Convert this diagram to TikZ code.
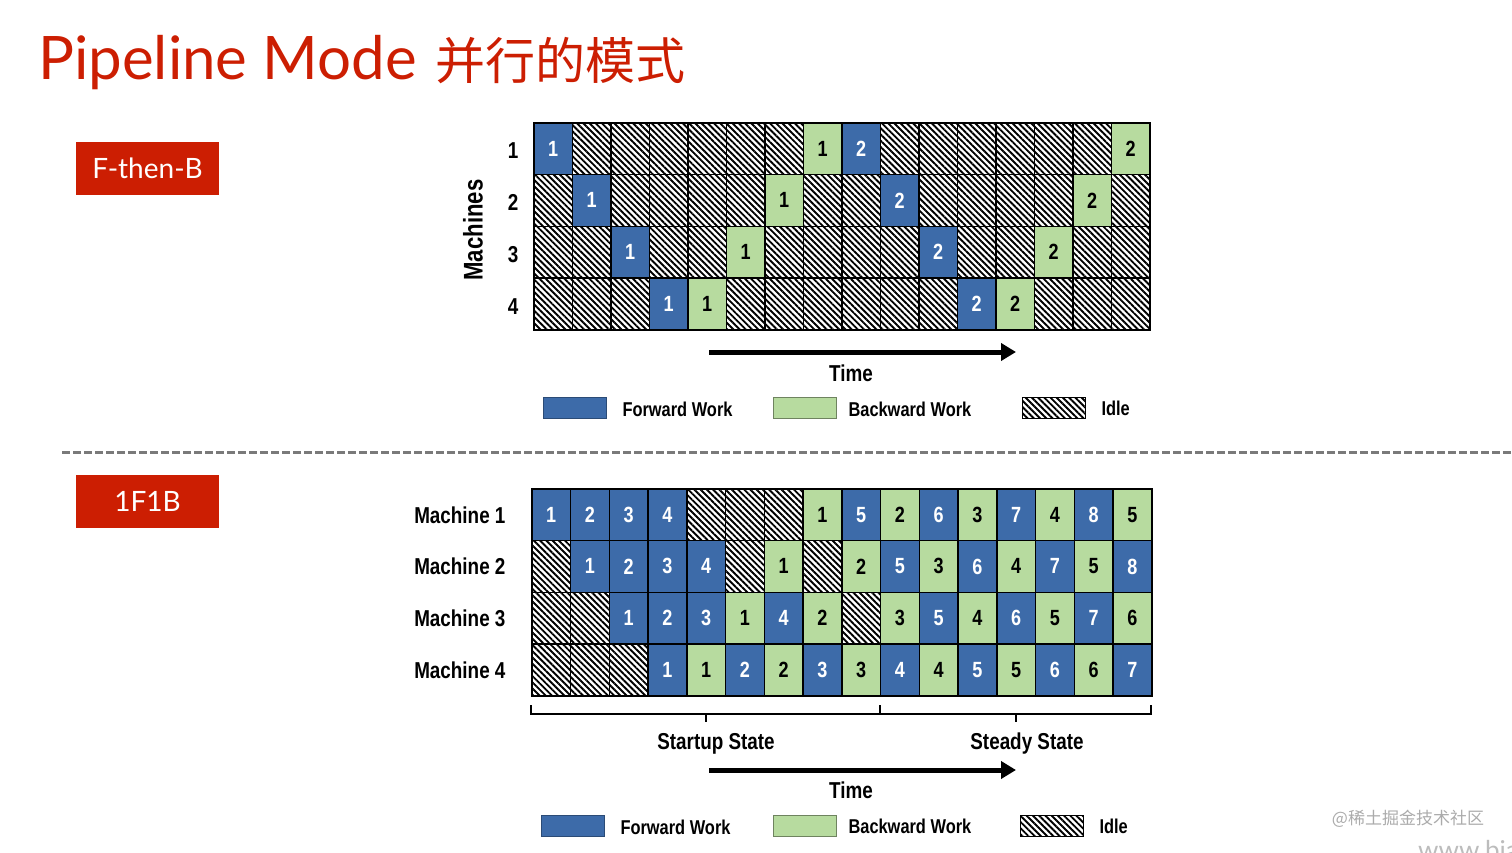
\documentclass[tikz,border=0pt]{standalone}
\usepackage{fontspec}
\setmainfont{Lato}
\newfontfamily\cjkfont{Noto Sans CJK SC}
\newfontfamily\chartfont[FakeStretch=0.82]{Liberation Sans}
\usetikzlibrary{arrows.meta,patterns.meta}
\definecolor{slidered}{HTML}{CC1E02}
\definecolor{workblue}{HTML}{3D6BA9}
\definecolor{workgreen}{HTML}{B7DB9F}
\definecolor{rulegrey}{HTML}{7A7A7A}
\definecolor{markgrey}{HTML}{ABABAB}
\tikzset{
  hatch/.style={pattern={Lines[angle=-45,distance=4.4pt,line width=1.9pt]}},
  cell/.style={draw=black,line width=1.6pt,inner sep=0pt,anchor=north west,
    minimum height=51.75pt,font=\chartfont\bfseries\fontsize{22}{24}\selectfont},
  fwork/.style={cell,fill=workblue,text=white},
  bwork/.style={cell,fill=workgreen,text=black},
  idle/.style={cell,hatch},
  chartlab/.style={font=\chartfont\bfseries\fontsize{23}{26}\selectfont},
  legendlab/.style={anchor=west,font=\chartfont\bfseries\fontsize{20}{22}\selectfont},
  swatch/.style={minimum width=63pt,minimum height=21pt,inner sep=0pt,line width=1pt},
  modebox/.style={fill=slidered,text=white,minimum width=143pt,minimum height=53pt,
    font=\fontsize{28}{32}\selectfont},
  timearrow/.style={line width=5pt,-{Triangle[length=15pt,width=17pt]}},
  bracket/.style={line width=2pt},
  sepline/.style={draw=rulegrey,line width=3pt,dash pattern=on 7.5pt off 3.5pt},
}
% legend: y of swatches, name prefix, small x shift
\newcommand{\legendrow}[3]{%
  \node[swatch,fill=workblue,draw=workblue!70!black] (#2-fw) at ({574.5+#3},#1) {};
  \node[legendlab] (#2-fwt) at ({619+#3},{#1+1.5}) {Forward Work};
  \node[swatch,fill=workgreen,draw=workgreen!60!black] (#2-bw) at (804.5,#1) {};
  \node[legendlab] (#2-bwt) at (845,{#1+1}) {Backward Work};
  \node[swatch,draw=black,hatch] (#2-id) at ({1054+#3},#1) {};
  \node[legendlab] (#2-idt) at ({1098+#3},{#1+0.5}) {Idle};
}

\begin{document}
\begin{tikzpicture}[x=1pt,y=-1pt]
  \useasboundingbox (0,0) rectangle (1512,853);

  % title
  \node[anchor=base west,inner sep=0pt,text=slidered,font=\fontsize{60}{68}\selectfont] (title) at (38,80) {Pipeline Mode};
  \node[anchor=base west,inner sep=0pt,text=slidered,font=\cjkfont\fontsize{50}{60}\selectfont] (titlecn) at ([xshift=18pt]title.base east) {并行的模式};

  \node[modebox] (fthenb) at (147.5,168.5) {F-then-B};
  \node[modebox] (onefoneb) at (147.5,501.5) {1F1B};

  \coordinate (sep-l) at (62,452);
  \coordinate (sep-r) at (1512,452);
  \draw[sepline] (sep-l) -- (sep-r);

  % F-then-B schedule
  \foreach \r/\row in {
    1/{fwork/1,idle/{},idle/{},idle/{},idle/{},idle/{},idle/{},bwork/1,fwork/2,idle/{},idle/{},idle/{},idle/{},idle/{},idle/{},bwork/2},
    2/{idle/{},fwork/1,idle/{},idle/{},idle/{},idle/{},bwork/1,idle/{},idle/{},fwork/2,idle/{},idle/{},idle/{},idle/{},bwork/2,idle/{}},
    3/{idle/{},idle/{},fwork/1,idle/{},idle/{},bwork/1,idle/{},idle/{},idle/{},idle/{},fwork/2,idle/{},idle/{},bwork/2,idle/{},idle/{}},
    4/{idle/{},idle/{},idle/{},fwork/1,bwork/1,idle/{},idle/{},idle/{},idle/{},idle/{},idle/{},fwork/2,bwork/2,idle/{},idle/{},idle/{}}} {
    \node[chartlab] (ft-lab-\r) at (513,{151+(\r-1)*51.75}) {\r};
    \foreach \k/\n [count=\c] in \row
      \node[\k,minimum width=38.5pt] (ft-\r-\c) at ({533+(\c-1)*38.5},{122+(\r-1)*51.75}) {\n};
  }
  \node[chartlab,font=\chartfont\bfseries\fontsize{27}{30}\selectfont,rotate=90] (ft-machines) at (473,230) {Machines};

  \coordinate (ft-ts) at (709,352);
  \coordinate (ft-te) at (1016,352);
  \draw[timearrow] (ft-ts) -- (ft-te);
  \node[chartlab] (ft-time) at (851,373) {Time};
  \legendrow{408}{ft}{0}

  % 1F1B schedule
  \foreach \r/\row in {
    1/{fwork/1,fwork/2,fwork/3,fwork/4,idle/{},idle/{},idle/{},bwork/1,fwork/5,bwork/2,fwork/6,bwork/3,fwork/7,bwork/4,fwork/8,bwork/5},
    2/{idle/{},fwork/1,fwork/2,fwork/3,fwork/4,idle/{},bwork/1,idle/{},bwork/2,fwork/5,bwork/3,fwork/6,bwork/4,fwork/7,bwork/5,fwork/8},
    3/{idle/{},idle/{},fwork/1,fwork/2,fwork/3,bwork/1,fwork/4,bwork/2,idle/{},bwork/3,fwork/5,bwork/4,fwork/6,bwork/5,fwork/7,bwork/6},
    4/{idle/{},idle/{},idle/{},fwork/1,bwork/1,fwork/2,bwork/2,fwork/3,bwork/3,fwork/4,bwork/4,fwork/5,bwork/5,fwork/6,bwork/6,fwork/7}} {
    \node[chartlab,anchor=east] (ob-lab-\r) at (509,{515+(\r-1)*51.75}) {Machine \r};
    \foreach \k/\n [count=\c] in \row
      \node[\k,minimum width=38.75pt] (ob-\r-\c) at ({531+(\c-1)*38.75},{488+(\r-1)*51.75}) {\n};
  }

  % startup / steady brackets
  \coordinate (bk-l) at (531,705);
  \coordinate (bk-m) at (880,705);
  \coordinate (bk-r) at (1151,705);
  \draw[bracket] (bk-l) -- ++(0,9) -| (bk-m);
  \draw[bracket] (bk-m) ++(0,9) -| (bk-r);
  \draw[bracket] (706,714) -- ++(0,8);
  \draw[bracket] (1016,714) -- ++(0,8);
  \node[chartlab] (ob-startup) at (716,744) {Startup State};
  \node[chartlab] (ob-steady) at (1027,744) {Steady State};

  \coordinate (ob-ts) at (709,770);
  \coordinate (ob-te) at (1016,770);
  \draw[timearrow] (ob-ts) -- (ob-te);
  \node[chartlab] (ob-time) at (851,790) {Time};
  \legendrow{825.5}{ob}{-2}

  % watermark
  \node[text=markgrey,font=\cjkfont\fontsize{17}{20}\selectfont] (mark) at (1408,819) {@稀土掘金技术社区};
  \node[anchor=base west,inner sep=0pt,text=markgrey!80,font=\fontsize{26}{28}\selectfont] (markurl) at (1418,859) {www.bia};
\end{tikzpicture}
\end{document}
